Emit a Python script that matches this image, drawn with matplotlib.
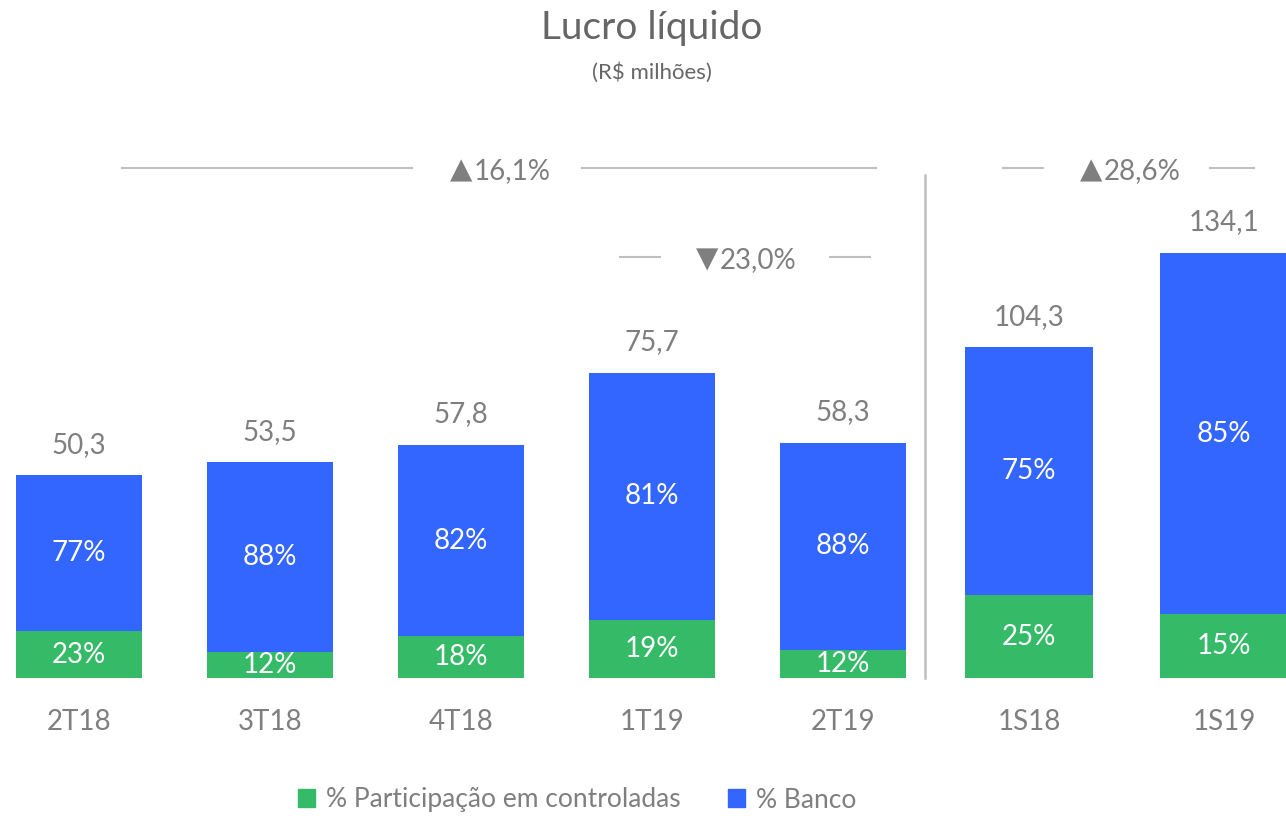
import matplotlib
matplotlib.use("Agg")
import matplotlib.pyplot as plt
from matplotlib.patches import Patch
from matplotlib.lines import Line2D

plt.rcParams['font.family'] = ['Lato', 'DejaVu Sans']

# quarterly data
quarters = ['2T18', '3T18', '4T18', '1T19', '2T19']
q_total = [50.3, 53.5, 57.8, 75.7, 58.3]
q_part = [23, 12, 18, 19, 12]
q_banco = [77, 88, 82, 81, 88]

# semester data
semesters = ['1S18', '1S19']
s_total = [104.3, 134.1]
s_part = [25, 15]
s_banco = [75, 85]

var_arrows = ['▲', '▼', '▲']
var_values = ['16,1%', '23,0%', '28,6%']

GREEN = '#35BB67'
BLUE = '#3366FF'
GRAY = '#7F7F7F'
LGRAY = '#BFBFBF'

W, H = 1286, 816
fig = plt.figure(figsize=(W / 100, H / 100), dpi=100)


def fx(px):
    return px / W


def fy(py):
    return 1 - py / H


def draw_bars(ax, cats, total, part, banco):
    x = list(range(len(cats)))
    g = [t * p / 100 for t, p in zip(total, part)]
    b = [t - gg for t, gg in zip(total, g)]
    ax.bar(x, g, width=0.66, color=GREEN)
    ax.bar(x, b, bottom=g, width=0.66, color=BLUE)
    for i in x:
        ax.annotate(f'{total[i]:.1f}'.replace('.', ','), (i, total[i]),
                    xytext=(0, 22), textcoords='offset points',
                    ha='center', va='center', fontsize=20, color=GRAY)
        ax.text(i, g[i] / 2, f'{part[i]}%', ha='center', va='center',
                fontsize=20, color='white')
        ax.text(i, g[i] + b[i] / 2, f'{banco[i]}%', ha='center', va='center',
                fontsize=20, color='white')
    ax.set_xticks(x)
    ax.set_xticklabels(cats, fontsize=20, color=GRAY)
    ax.tick_params(axis='x', length=0, pad=22)
    ax.set_yticks([])
    for s in ax.spines.values():
        s.set_visible(False)


base = 138 / H
ax1 = fig.add_axes([0, base, 938 / W, 560 / H])
ax1.set_xlim(-79 / 191, -79 / 191 + 938 / 191)
ax1.set_ylim(0, 560 / 4.03)
draw_bars(ax1, quarters, q_total, q_part, q_banco)

ax2 = fig.add_axes([931.5 / W, base, (W - 931.5) / W, 560 / H])
ax2.set_xlim(-0.5, -0.5 + (W - 931.5) / 195)
ax2.set_ylim(0, 560 / 3.17)
draw_bars(ax2, semesters, s_total, s_part, s_banco)

# titles
fig.text(fx(652), fy(28), 'Lucro líquido', ha='center', va='center',
         fontsize=28, color='#666666')
fig.text(fx(652), fy(73), '(R$ milhões)', ha='center', va='center',
         fontsize=16, color='#666666')

# variation brackets
segs = [((122, 412), (582, 876), 168, 472),
        ((620, 660), (830, 870), 257, 718),
        ((1003, 1043), (1210, 1254), 168, 1102)]
for k, (l1, l2, yy, tx) in enumerate(segs):
    for a, b in (l1, l2):
        fig.add_artist(Line2D([fx(a), fx(b)], [fy(yy), fy(yy)],
                              color=LGRAY, lw=1.5))
    fig.text(fx(tx), fy(yy + 2), var_arrows[k], ha='right', va='center',
             fontsize=21, color=GRAY, family='DejaVu Sans')
    fig.text(fx(tx + 2), fy(yy + 3), var_values[k], ha='left', va='center',
             fontsize=20, color=GRAY)

# separator
fig.add_artist(Line2D([fx(925), fx(925)], [fy(175), fy(678)], color=LGRAY, lw=1.8))

handles = [Patch(color=GREEN, label='% Participação em controladas'),
           Patch(color=BLUE, label='% Banco')]
fig.legend(handles=handles, loc='center', bbox_to_anchor=(fx(577), fy(800)),
           ncol=2, frameon=False, fontsize=19, labelcolor=GRAY,
           handlelength=0.65, handleheight=0.65, handletextpad=0.4,
           columnspacing=1.8)

fig.savefig('out.png', dpi=100)
